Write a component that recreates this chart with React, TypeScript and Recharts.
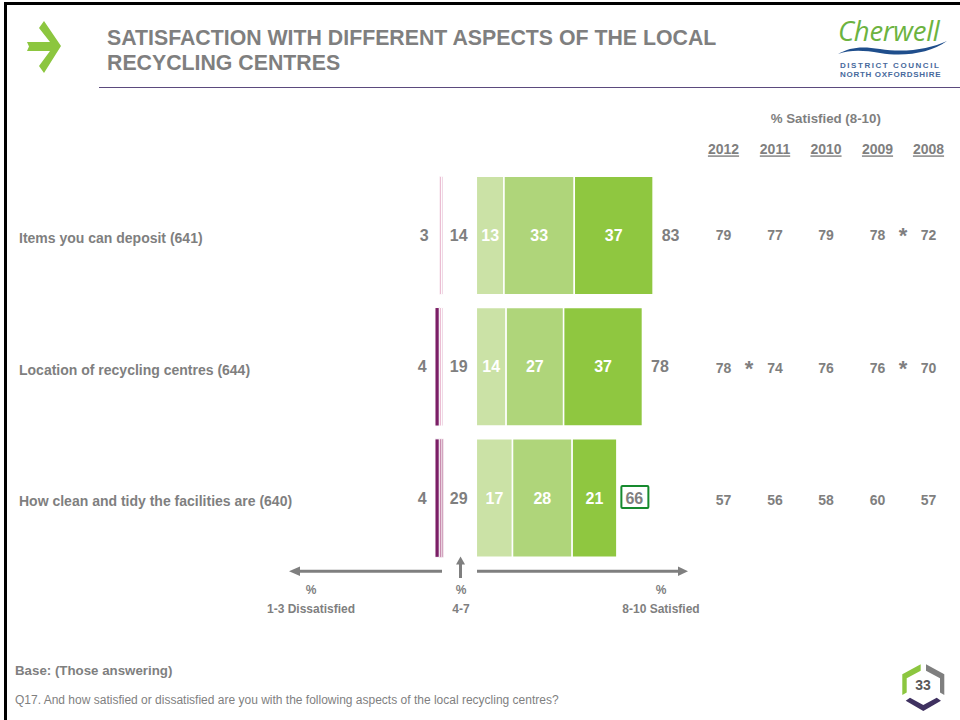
import { BarChart, Bar, XAxis, YAxis, Cell, LabelList } from 'recharts';

const categories = [
  'Items you can deposit (641)',
  'Location of recycling centres (644)',
  'How clean and tidy the facilities are (640)',
];

// % dissatisfied, split by score, nearest the middle first
const score3 = [1, 1, 1];
const score2 = [1, 1, 1];
const score1 = [0, 2, 2];
const dissatisfiedTotals = [3, 4, 4];
const neutralTotals = [14, 19, 29];

// % satisfied, split by score
const score8 = [13, 14, 17];
const score9 = [33, 27, 28];
const score10 = [37, 37, 21];
const satisfiedTotals = [83, 78, 66];

const trendYears = ['2012', '2011', '2010', '2009', '2008'];
const trendRows = [
  [79, 77, 79, 78, 72],
  [78, 74, 76, 76, 70],
  [57, 56, 58, 60, 57],
];
// significant change marks: [row, gap after year column]
const trendStars = [
  [0, 3],
  [1, 0],
  [1, 3],
];

const titleLines = ['SATISFACTION WITH DIFFERENT ASPECTS OF THE LOCAL', 'RECYCLING CENTRES'];

const rows = categories.map((name, i) => ({
  name,
  score3: score3[i],
  score2: score2[i],
  score1: score1[i],
  score8: score8[i],
  score9: score9[i],
  score10: score10[i],
}));

const FONT = '"Liberation Sans", Arial, sans-serif';
const GREY = '#7f7f7f';
const score3Fills = ['#f0d8e5', '#f0d8e5', '#d3a6c0'];
const score2Fills = ['#e8b4cc', '#e8b4cc', '#c586aa'];
const score3Strokes = [1, 1, 0.4];
const COLUMN_X = [723.5, 775, 826, 877.5, 928.5];
const ROW_Y = [235, 368, 500];
const GAP_X = [749, 800, 852, 903];
const PLOT_TOP = 170.2;
const PLOT_HEIGHT = 394;

function rectOf(props: any) {
  const box = props.viewBox ?? props;
  return {
    left: Math.min(box.x, box.x + box.width),
    right: Math.max(box.x, box.x + box.width),
    mid: box.y + box.height / 2,
  };
}

function CategoryTick({ y, payload }: any) {
  return (
    <text x={19} y={y + 2.5} dy="0.35em" fontFamily={FONT} fontSize={14} fontWeight={700} fill={GREY}>
      {payload.value}
    </text>
  );
}

function ValueText({ x, y, children, fill = GREY, size = 16 }: any) {
  return (
    <text x={x} y={y} dy="0.35em" textAnchor="middle" fontFamily={FONT} fontSize={size} fontWeight={700} fill={fill}>
      {children}
    </text>
  );
}

function Decor() {
  return (
    <svg width={960} height={720} style={{ position: 'absolute', left: 0, top: 0 }}>
      <rect x={4} y={2} width={956} height={3} fill="#000" />
      <rect x={4} y={2} width={3} height={718} fill="#000" />

      <path d="M27 42 L50 42 L39 28 L44 21 L61 46 L44 73 L39 66 L50 51 L27 51 L29 46.5 Z" fill="#8cc63f" />
      {titleLines.map((line, i) => (
        <text key={line} x={107} y={37.5 + i * 25} dy="0.35em" fontFamily={FONT} fontSize={21.3} fontWeight={700} fill={GREY}>
          {line}
        </text>
      ))}
      <line x1={99} y1={87.5} x2={960} y2={87.5} stroke="#5b4a7d" strokeWidth={1} />

      {/* logo */}
      <text x={838} y={41} fontFamily={'"Open Sans", Lato, sans-serif'} fontStyle="italic" fontSize={27.5} fill="#6cb33f" letterSpacing={-0.3}>
        Cherwell
      </text>
      <path d="M838 54 C850 47 862 46 880 49 C905 53 930 49 947 41 C930 53 905 57 880 53 C862 50 850 50 838 54 Z" fill="#1f4e8c" />
      <text x={840} y={68} fontFamily={FONT} fontSize={8} fontWeight={700} letterSpacing={1.55} fill="#47699c">
        DISTRICT COUNCIL
      </text>
      <text x={840} y={77} fontFamily={FONT} fontSize={8} fontWeight={700} letterSpacing={0.7} fill="#47699c">
        NORTH OXFORDSHIRE
      </text>

      {/* trend table */}
      <ValueText x={825.8} y={118.5} size={13.3}>% Satisfied (8-10)</ValueText>
      {trendYears.map((year, i) => (
        <text
          key={year}
          x={COLUMN_X[i]}
          y={149.5}
          dy="0.35em"
          textAnchor="middle"
          textDecoration="underline"
          fontFamily={FONT}
          fontSize={14}
          fontWeight={700}
          fill={GREY}
        >
          {year}
        </text>
      ))}
      {trendRows.map((row, r) =>
        row.map((value, c) => (
          <ValueText key={`${r}-${c}`} x={COLUMN_X[c]} y={ROW_Y[r]} size={14}>
            {value}
          </ValueText>
        )),
      )}
      {trendStars.map(([r, gap]) => (
        <ValueText key={`${r}-${gap}`} x={GAP_X[gap]} y={ROW_Y[r]} size={22}>
          *
        </ValueText>
      ))}

      {/* direction arrows */}
      <line x1={442} y1={571.3} x2={298} y2={571.3} stroke={GREY} strokeWidth={3} />
      <path d="M289 571.3 L300 566.5 L300 576 Z" fill={GREY} />
      <line x1={477} y1={571.3} x2={680} y2={571.3} stroke={GREY} strokeWidth={3} />
      <path d="M688 571.3 L678 566.5 L678 576 Z" fill={GREY} />
      <line x1={460.5} y1={578} x2={460.5} y2={563} stroke={GREY} strokeWidth={3} />
      <path d="M460.5 556.5 L456 564.5 L465 564.5 Z" fill={GREY} />

      {[
        [311, '1-3 Dissatisfied'],
        [461, '4-7'],
        [661, '8-10 Satisfied'],
      ].map(([x, label]) => (
        <g key={label}>
          <ValueText x={x} y={590} size={12}>%</ValueText>
          <ValueText x={x} y={609} size={12}>{label}</ValueText>
        </g>
      ))}

      <text x={15} y={670.7} dy="0.35em" fontFamily={FONT} fontSize={13.3} fontWeight={700} fill={GREY}>
        Base: (Those answering)
      </text>
      <text x={15} y={700} dy="0.35em" fontFamily={FONT} fontSize={12} fill={GREY}>
        Q17. And how satisfied or dissatisfied are you with the following aspects of the local recycling centres?
      </text>

      {/* page badge */}
      <path d="M920.7 664.3 L902.3 674.3 L902.3 695 L906.7 692.5 L906.7 678.3 L920.7 670.7 Z" fill="#8cc63f" />
      <path d="M926 664.3 L944.3 674.3 L944.3 695 L940 692.5 L940 678.3 L926 670.7 Z" fill={GREY} />
      <path d="M905.7 700.7 L910 697.7 L923.3 705 L936.7 697.7 L941 700.7 L923.3 711 Z" fill="#3f3160" />
      <ValueText x={923} y={685} size={14} fill="#595959">33</ValueText>
    </svg>
  );
}

export default function App() {
  return (
    <div style={{ position: 'absolute', left: 0, top: 0, width: 960, height: 720, background: '#fff', overflow: 'hidden' }}>
      <Decor />

      {/* dissatisfied side, with the category names and the 4-7 column */}
      <div style={{ position: 'absolute', left: 0, top: 0 }}>
        <BarChart
          width={480}
          height={720}
          data={rows}
          layout="vertical"
          margin={{ top: PLOT_TOP, bottom: 720 - PLOT_TOP - PLOT_HEIGHT, left: 0, right: 36.5 }}
        >
          <XAxis type="number" hide reversed domain={[0, 200]} />
          <YAxis type="category" dataKey="name" width={17.5} axisLine={false} tickLine={false} interval={0} tick={<CategoryTick />} />
          <Bar dataKey="score3" stackId="d" barSize={118.5} stroke="#fff" strokeWidth={1} isAnimationActive={false}>
            {rows.map((r, i) => (
              <Cell key={r.name} fill={score3Fills[i]} strokeWidth={score3Strokes[i]} />
            ))}
            <LabelList
              dataKey="score3"
              content={(p: any) => {
                const b = rectOf(p);
                return <ValueText x={458.7} y={b.mid}>{neutralTotals[p.index]}</ValueText>;
              }}
            />
          </Bar>
          <Bar dataKey="score2" stackId="d" barSize={118.5} stroke="#fff" strokeWidth={1} isAnimationActive={false}>
            {rows.map((r, i) => (
              <Cell key={r.name} fill={score2Fills[i]} strokeWidth={score3Strokes[i]} />
            ))}
            {/* hung on score2 because the zero score1 bar gets no label; it steps left with score1 */}
            <LabelList
              dataKey="score2"
              content={(p: any) => {
                const b = rectOf(p);
                return <ValueText x={b.left - 15 - score1[p.index]} y={b.mid}>{dissatisfiedTotals[p.index]}</ValueText>;
              }}
            />
          </Bar>
          <Bar dataKey="score1" stackId="d" barSize={118.5} fill="#7b1f66" stroke="#fff" strokeWidth={1} isAnimationActive={false} />
        </BarChart>
      </div>

      {/* satisfied side */}
      <div style={{ position: 'absolute', left: 476, top: 0 }}>
        <BarChart
          width={260}
          height={720}
          data={rows}
          layout="vertical"
          margin={{ top: PLOT_TOP, bottom: 720 - PLOT_TOP - PLOT_HEIGHT, left: 0.3, right: 46.7 }}
        >
          <XAxis type="number" hide domain={[0, 100]} />
          <YAxis type="category" dataKey="name" hide />
          <Bar dataKey="score8" stackId="s" barSize={118.5} fill="#cbe2a6" stroke="#fff" strokeWidth={1.5} isAnimationActive={false}>
            <LabelList dataKey="score8" position="center" fill="#fff" fontFamily={FONT} fontSize={16} fontWeight={700} />
          </Bar>
          <Bar dataKey="score9" stackId="s" barSize={118.5} fill="#afd57a" stroke="#fff" strokeWidth={1.5} isAnimationActive={false}>
            <LabelList dataKey="score9" position="center" fill="#fff" fontFamily={FONT} fontSize={16} fontWeight={700} />
          </Bar>
          <Bar dataKey="score10" stackId="s" barSize={118.5} fill="#8fc740" stroke="#fff" strokeWidth={1.5} isAnimationActive={false}>
            <LabelList dataKey="score10" position="center" fill="#fff" fontFamily={FONT} fontSize={16} fontWeight={700} />
            <LabelList
              dataKey="score10"
              content={(p: any) => {
                const b = rectOf(p);
                const total = satisfiedTotals[p.index];
                const cx = b.right + 17.5;
                return (
                  <g>
                    {total === Math.min(...satisfiedTotals) && (
                      <rect x={cx - 13} y={b.mid - 12} width={27} height={22} rx={1} fill="none" stroke="#168a2e" strokeWidth={2} />
                    )}
                    <ValueText x={cx} y={b.mid}>{total}</ValueText>
                  </g>
                );
              }}
            />
          </Bar>
        </BarChart>
      </div>
    </div>
  );
}
